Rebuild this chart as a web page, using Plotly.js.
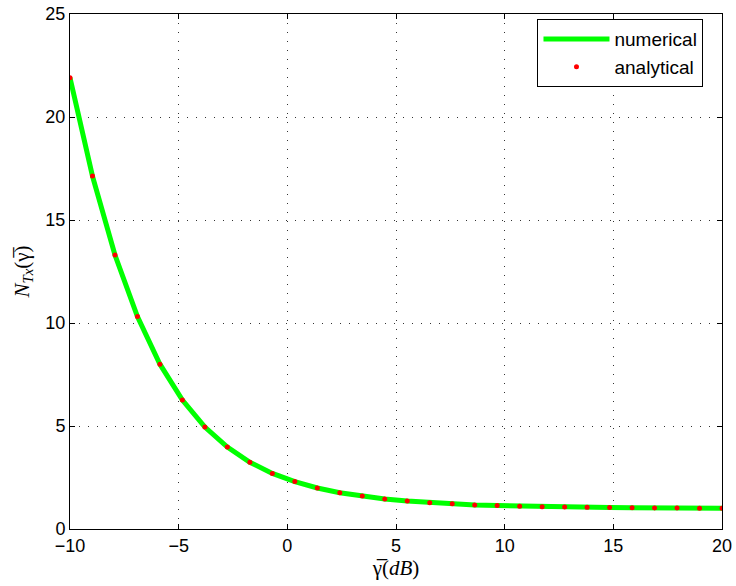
<!DOCTYPE html>
<html>
<head>
<meta charset="utf-8">
<script src="https://cdn.plot.ly/plotly-3.0.1.min.js"></script>
<style>
  html, body { margin: 0; padding: 0; background: #fff; }
  #chart { width: 736px; height: 586px; }
</style>
</head>
<body>
<div id="chart"></div>
<script>
// Average SNR in dB
const snrDb = [-10, -8.966, -7.931, -6.897, -5.862, -4.828, -3.793, -2.759, -1.724, -0.690,
               0.345, 1.379, 2.414, 3.448, 4.483, 5.517, 6.552, 7.586, 8.621, 9.655,
               10.690, 11.724, 12.759, 13.793, 14.828, 15.862, 16.897, 17.931, 18.966, 20];

// Expected number of transmissions, numerical evaluation
const nTxNumerical = [21.9, 17.13, 13.3, 10.31, 8.0, 6.26, 4.95, 3.98, 3.24, 2.70,
                      2.30, 1.99, 1.76, 1.60, 1.46, 1.36, 1.28, 1.22, 1.17, 1.14,
                      1.11, 1.08, 1.07, 1.05, 1.04, 1.03, 1.02, 1.02, 1.01, 1.01];

// Expected number of transmissions, closed-form expression
const nTxAnalytical = [21.9, 17.13, 13.3, 10.31, 8.0, 6.26, 4.95, 3.98, 3.24, 2.70,
                       2.30, 1.99, 1.76, 1.60, 1.46, 1.36, 1.28, 1.22, 1.17, 1.14,
                       1.11, 1.08, 1.07, 1.05, 1.04, 1.03, 1.02, 1.02, 1.01, 1.01];

const xTicks = [-10, -5, 0, 5, 10, 15, 20];
const yTicks = [0, 5, 10, 15, 20, 25];

const axisCommon = {
  showline: true,
  linecolor: '#000',
  linewidth: 1,
  mirror: 'ticks',
  ticks: 'inside',
  ticklen: 5,
  tickcolor: '#000',
  showgrid: true,
  gridcolor: '#333',
  gridwidth: 1,
  griddash: '1px,8px',
  zeroline: false,
  tickfont: { family: 'Liberation Sans, Arial, sans-serif', size: 18, color: '#000' }
};

const titleFont = { family: 'Liberation Serif, DejaVu Serif, serif', size: 21, color: '#000' };

const traces = [
  {
    x: snrDb, y: nTxNumerical, name: 'numerical',
    type: 'scatter', mode: 'lines',
    line: { color: '#00ff00', width: 5 }
  },
  {
    x: snrDb, y: nTxAnalytical, name: 'analytical',
    type: 'scatter', mode: 'markers',
    marker: { color: '#ff0000', size: 5 }
  }
];

const layout = {
  width: 736, height: 586,
  margin: { l: 70, r: 14, t: 14, b: 57 },
  paper_bgcolor: '#fff',
  plot_bgcolor: '#fff',
  showlegend: true,
  xaxis: Object.assign({}, axisCommon, {
    range: [-10, 20],
    tickmode: 'array', tickvals: xTicks,
    title: { text: 'γ̅(<i>dB</i>)', font: titleFont, standoff: 4 }
  }),
  yaxis: Object.assign({}, axisCommon, {
    range: [0, 25],
    tickmode: 'array', tickvals: yTicks,
    title: { text: '<i>N</i><sub><i>Tx</i></sub>(γ̅)', font: titleFont, standoff: 10 }
  }),
  legend: {
    x: 0.717, y: 0.99, xanchor: 'left', yanchor: 'top',
    bgcolor: '#fff', bordercolor: '#000', borderwidth: 1,
    font: { family: 'Liberation Sans, Arial, sans-serif', size: 19, color: '#000' },
    itemwidth: 66,
    tracegroupgap: 0
  }
};

Plotly.newPlot('chart', traces, layout, { displayModeBar: false, staticPlot: true });
</script>
</body>
</html>
